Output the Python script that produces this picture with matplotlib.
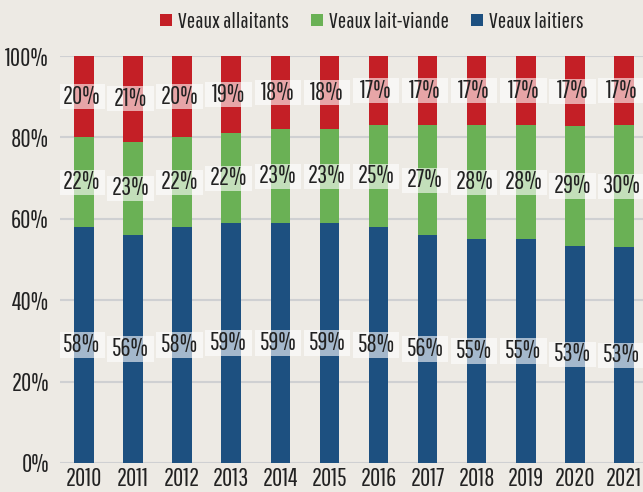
import numpy as np
import matplotlib.pyplot as plt
from matplotlib import font_manager
from matplotlib.patches import Rectangle

# data (percent of calves)
years = ["2010", "2011", "2012", "2013", "2014", "2015",
         "2016", "2017", "2018", "2019", "2020", "2021"]
laitiers = [58, 56, 58, 59, 59, 59, 58, 56, 55, 55, 53.4, 53]
lait_viande = [22, 23, 22, 22, 23, 23, 25, 27, 28, 28, 29.3, 30]
allaitants = [20, 21, 20, 19, 18, 18, 17, 17, 17, 17, 17.3, 17]

series_names = ["Veaux laitiers", "Veaux lait-viande", "Veaux allaitants"]
colors = ["#1d5080", "#6ab155", "#c41f26"]

names = {f.name for f in font_manager.fontManager.ttflist}
fam = [n for n in ["Pathway Gothic One", "Sofia Sans Extra Condensed", "Barlow Condensed"] if n in names] + ["DejaVu Sans"]
plt.rcParams["font.family"] = fam

bg = "#edeae4"
fs = 18
fig = plt.figure(figsize=(6.43, 4.92), dpi=100, facecolor=bg)
ax = fig.add_axes([0.0933, 0.059, 0.9067, 0.827], facecolor=bg)

x = np.arange(len(years))
w = 0.4
bottom = np.zeros(len(years))
handles = []
for vals, name, col in zip([laitiers, lait_viande, allaitants], series_names, colors):
    vals = np.array(vals, dtype=float)
    b = ax.bar(x, vals, w, bottom=bottom, color=col, label=name, zorder=2)
    handles.append(b)
    for xi, v, b0 in zip(x, vals, bottom):
        cy = b0 + v / 2
        # translucent white label box
        ax.add_patch(Rectangle((xi - 0.05 - 0.475, cy - 3.1), 0.95, 6.2,
                               facecolor="white", edgecolor="none", alpha=0.6, zorder=3))
        ax.text(xi - 0.05, cy, f"{round(v)}%", ha="center", va="center",
                fontsize=fs, color="#222222", zorder=4)
    bottom += vals

ax.set_xlim(-0.49, 11.39)
ax.set_ylim(0, 100)
ax.set_yticks([0, 20, 40, 60, 80, 100])
ax.set_yticklabels([f"{t}%" for t in [0, 20, 40, 60, 80, 100]])
ax.set_xticks(x)
ax.set_xticklabels(years)
ax.tick_params(length=0, labelsize=fs, colors="#222222")
ax.tick_params(axis="y", pad=8)
ax.tick_params(axis="x", pad=3)
ax.grid(axis="y", color="#cfd0d2", linewidth=1.5, zorder=0)
ax.set_axisbelow(True)
for s in ax.spines.values():
    s.set_visible(False)

fig.legend(handles[::-1], series_names[::-1], loc="center", bbox_to_anchor=(0.578, 0.956),
           ncol=3, frameon=False, fontsize=16, handlelength=0.55, handleheight=0.45,
           handletextpad=0.25, columnspacing=1.0, labelcolor="#222222")

fig.savefig("out.png", dpi=100, facecolor=bg)
